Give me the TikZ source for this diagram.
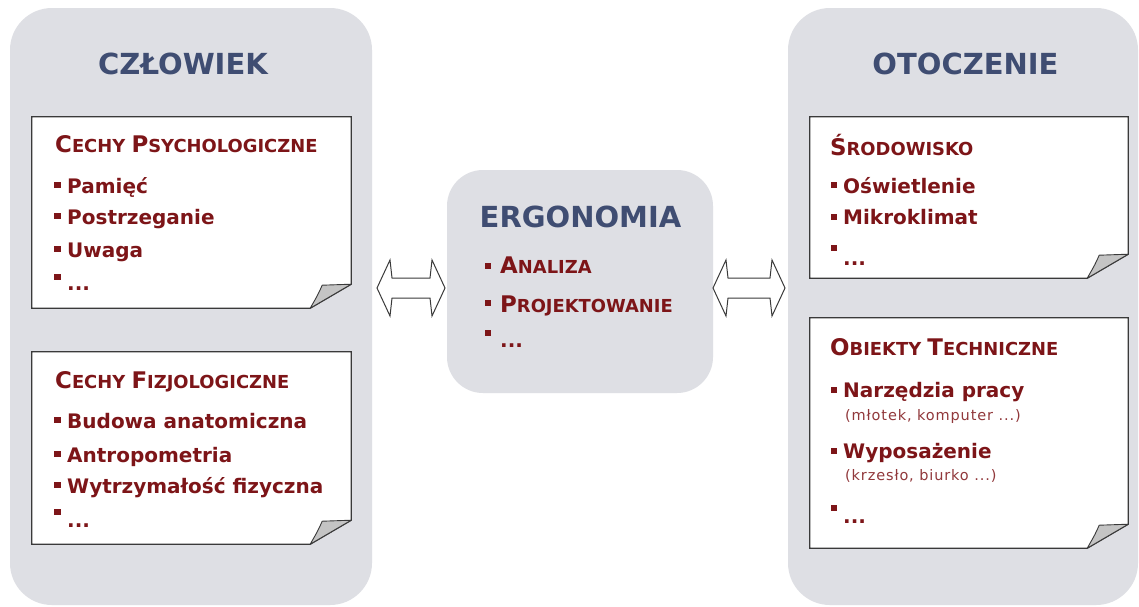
\documentclass[tikz,border=0pt]{standalone}
\usepackage{fontspec}
\setmainfont{DejaVu Sans}
\usetikzlibrary{calc}
\definecolor{panelc}{HTML}{DEDFE4}
\definecolor{titc}{HTML}{3F4D72}
\definecolor{redc}{HTML}{7D1518}
\definecolor{edgec}{HTML}{3A3A3A}
\definecolor{flapc}{HTML}{C4C4C4}
\newcommand\scA[1]{{\fontsize{22.9}{26}\selectfont #1}}
\newcommand\scB[1]{{\fontsize{17.9}{26}\selectfont #1}}
\tikzset{
  panel/.style={fill=panelc, draw=none, inner sep=0pt},
  paper/.style={draw=none, inner sep=0pt},
  outline/.style={draw=edgec, line width=1.3pt, fill=white, line join=miter},
  flap/.style={draw=edgec, line width=0.9pt, fill=flapc, line join=round},
  title/.style={text=titc, font=\fontsize{29}{34}\selectfont\bfseries, anchor=base, inner sep=0pt},
  head/.style={text=redc, font=\bfseries, anchor=base west, inner sep=0pt},
  item/.style={text=redc, font=\fontsize{20}{24}\selectfont\bfseries, anchor=base west, inner sep=0pt},
  note/.style={text=redc!85, font=\fontsize{14.5}{16}\selectfont\addfontfeature{LetterSpace=6}, anchor=base west, inner sep=0pt},
  bul/.style={fill=redc, draw=none, minimum size=6.5pt, inner sep=0pt},
  arr/.style={draw=edgec, fill=white, line width=1pt, line join=miter},
}
\begin{document}
\begin{tikzpicture}[x=1pt,y=-1pt]
\useasboundingbox (0,0) rectangle (1139,606);
\fill[white] (0,0) rectangle (1139,606);

% panels
\node[panel, rounded corners=42pt, minimum width=362pt, minimum height=597pt] (P1) at (191,306.5) {};
\node[panel, rounded corners=36pt, minimum width=266pt, minimum height=223pt] (P2) at (580,281.5) {};
\node[panel, rounded corners=42pt, minimum width=350pt, minimum height=597pt] (P3) at (963,306.5) {};

% paper boxes
\node[paper, minimum width=319pt, minimum height=191pt] (B1) at (191.5,212.5) {};
\node[paper, minimum width=319pt, minimum height=192pt] (B2) at (191.5,448) {};
\node[paper, minimum width=318pt, minimum height=161pt] (B3) at (969,197.5) {};
\node[paper, minimum width=318pt, minimum height=230pt] (B4) at (969,433) {};

\foreach \b in {B1,B2,B3,B4}{
  \draw[outline] (\b.north west) -- (\b.north east) -- ($(\b.south east)+(0,-24)$)
     -- ($(\b.south east)+(-41,0)$) -- (\b.south west) -- cycle;
  \draw[flap] ($(\b.south east)+(0,-24)$) -- ($(\b.south east)+(-29,-23)$)
     .. controls ($(\b.south east)+(-33,-14)$) .. ($(\b.south east)+(-41,0)$) -- cycle;
}

% titles
\node[title] (T1) at (183,74) {CZŁOWIEK};
\node[title] (T2) at (580.5,227) {ERGONOMIA};
\node[title] (T3) at (965.5,74) {OTOCZENIE};

% box 1
\node[head] (H1) at (55,152) {\scA{C}\scB{ECHY }\scA{P}\scB{SYCHOLOGICZNE}};
\node[bul] (b11) at (57.5,185) {};
\node[item] (i11) at (67,193) {Pamięć};
\node[bul] (b12) at (57.5,216) {};
\node[item] (i12) at (67,224) {Postrzeganie};
\node[bul] (b13) at (57.5,249) {};
\node[item] (i13) at (67,257) {Uwaga};
\node[bul] (b14) at (57.5,277) {};
\node[item] (i14) at (67,290) {...};

% box 2
\node[head] (H2) at (55,388) {\scA{C}\scB{ECHY }\scA{F}\scB{IZJOLOGICZNE}};
\node[bul] (b21) at (57.5,420) {};
\node[item] (i21) at (67,428) {Budowa anatomiczna};
\node[bul] (b22) at (57.5,454) {};
\node[item] (i22) at (67,462) {Antropometria};
\node[bul] (b23) at (57.5,485) {};
\node[item] (i23) at (67,493) {Wytrzymałość fizyczna};
\node[bul] (b24) at (57.5,512) {};
\node[item] (i24) at (67,527) {...};

% middle
\node[bul] (m1) at (488,266) {};
\node[head] (mi1) at (500,273) {\scA{A}\scB{NALIZA}};
\node[bul] (m2) at (488,303) {};
\node[head] (mi2) at (500,312) {\scA{P}\scB{ROJEKTOWANIE}};
\node[bul] (m3) at (488,333) {};
\node[item] (mi3) at (500,347) {...};

% box 3
\node[head] (H3) at (830,155) {\scA{Ś}\scB{RODOWISKO}};
\node[bul] (b31) at (834,185) {};
\node[item] (i31) at (843,193) {Oświetlenie};
\node[bul] (b32) at (834,217) {};
\node[item] (i32) at (843,224) {Mikroklimat};
\node[bul] (b33) at (834,248) {};
\node[item] (i33) at (843,265) {...};

% box 4
\node[head] (H4) at (830,355) {\scA{O}\scB{BIEKTY }\scA{T}\scB{ECHNICZNE}};
\node[bul] (b41) at (834,390) {};
\node[item] (i41) at (843,397) {Narzędzia pracy};
\node[note] (n41) at (845,420) {(młotek, komputer ...)};
\node[bul] (b42) at (834,451) {};
\node[item] (i42) at (843,458) {Wyposażenie};
\node[note] (n42) at (845,480) {(krzesło, biurko ...)};
\node[bul] (b43) at (834,508) {};
\node[item] (i43) at (843,523) {...};

% double arrows
\coordinate (l1) at (377,288);
\coordinate (l2) at (445,288);
\draw[arr] (l1) -- ($(l1)+(13,-28)$) -- ($(l1)+(15,-10)$) -- ($(l2)+(-15,-10)$)
  -- ($(l2)+(-13,-28)$) -- (l2) -- ($(l2)+(-13,28)$) -- ($(l2)+(-15,10)$)
  -- ($(l1)+(15,10)$) -- ($(l1)+(13,28)$) -- cycle;
\coordinate (r1) at (713,288);
\coordinate (r2) at (785,288);
\draw[arr] (r1) -- ($(r1)+(13,-28)$) -- ($(r1)+(15,-10)$) -- ($(r2)+(-15,-10)$)
  -- ($(r2)+(-13,-28)$) -- (r2) -- ($(r2)+(-13,28)$) -- ($(r2)+(-15,10)$)
  -- ($(r1)+(15,10)$) -- ($(r1)+(13,28)$) -- cycle;
\end{tikzpicture}
\end{document}
